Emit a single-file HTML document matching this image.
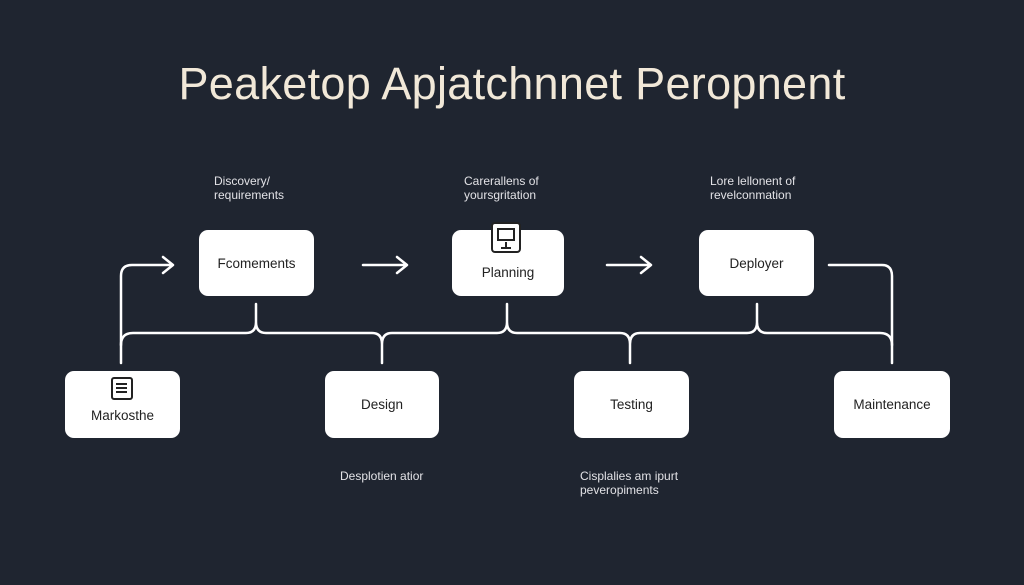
<!DOCTYPE html>
<html><head><style>
body{margin:0;width:1024px;height:585px;background:#1f2530;font-family:"Liberation Sans",sans-serif;overflow:hidden;position:relative}
.t{position:absolute;color:#e2e2e6;font-size:12px;line-height:14px}
.b{position:absolute;background:#fff;border-radius:9px;color:#222;font-size:13.5px;display:flex;align-items:center;justify-content:center}
</style></head><body>
<div style="position:absolute;left:0;width:1024px;top:58px;text-align:center;color:#f1e8d8;font-size:45px;line-height:52px;letter-spacing:0.3px">Peaketop Apjatchnnet Peropnent</div>
<svg width="1024" height="585" style="position:absolute;left:0;top:0" fill="none" stroke="#fff" stroke-width="2.5" stroke-linecap="round" stroke-linejoin="round">
<path d="M121 363 V276 Q121 265 132 265 H172 M163 257 L173 265 L163 273"/>
<path d="M363 265 H406 M397 257 L407 265 L397 273"/>
<path d="M607 265 H650 M641 257 L651 265 L641 273"/>
<path d="M829 265 H882 Q892 265 892 276 V363"/>
<path d="M121 345 Q121 333 133 333 H246 Q256 333 256 322 V304 M256 322 Q256 333 266 333 H372 Q382 333 382 344 V363 M382 344 Q382 333 392 333 H497 Q507 333 507 322 V304 M507 322 Q507 333 517 333 H620 Q630 333 630 344 V363 M630 344 Q630 333 640 333 H747 Q757 333 757 322 V304 M757 322 Q757 333 767 333 H880 Q892 333 892 345"/>
</svg>
<div class="t" style="left:214px;top:174px">Discovery/<br>requirements</div>
<div class="t" style="left:464px;top:174px">Carerallens of<br>yoursgritation</div>
<div class="t" style="left:710px;top:174px">Lore lellonent of<br>revelconmation</div>
<div class="t" style="left:340px;top:469px">Desplotien atior</div>
<div class="t" style="left:580px;top:469px">Cisplalies am ipurt<br>peveropiments</div>
<div class="b" style="left:199px;top:230px;width:115px;height:66px">Fcomements</div>
<div class="b" style="left:452px;top:230px;width:112px;height:66px;padding-top:18px;box-sizing:border-box">Planning</div>
<div style="position:absolute;left:491px;top:222px;width:30px;height:31px;background:#fff;border:2px solid #222;border-radius:4px;box-sizing:border-box">
<div style="position:absolute;left:4px;top:4px;width:18px;height:13px;border:2px solid #222;box-sizing:border-box"></div>
<div style="position:absolute;left:12px;top:18px;width:2px;height:5px;background:#222"></div>
<div style="position:absolute;left:8px;top:23px;width:10px;height:2px;background:#222"></div></div>
<div class="b" style="left:699px;top:230px;width:115px;height:66px">Deployer</div>
<div class="b" style="left:65px;top:371px;width:115px;height:67px;padding-top:22px;box-sizing:border-box">Markosthe</div>
<div style="position:absolute;left:111px;top:377px;width:22px;height:23px;border:2.5px solid #222;border-radius:3px;box-sizing:border-box">
<div style="position:absolute;left:3px;top:4px;width:11px;height:2px;background:#222;box-shadow:0 4px #222,0 8px #222"></div></div>
<div class="b" style="left:325px;top:371px;width:114px;height:67px">Design</div>
<div class="b" style="left:574px;top:371px;width:115px;height:67px">Testing</div>
<div class="b" style="left:834px;top:371px;width:116px;height:67px">Maintenance</div>
</body></html>
